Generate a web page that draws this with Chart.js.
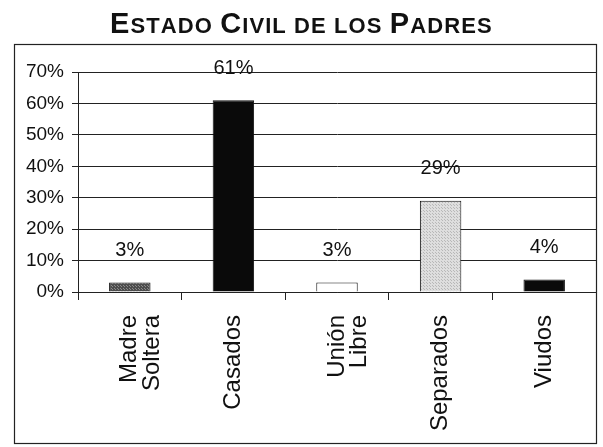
<!DOCTYPE html>
<html>
<head>
<meta charset="utf-8">
<script src="https://cdn.jsdelivr.net/npm/chart.js@4/dist/chart.umd.min.js"></script>
<style>
html,body{margin:0;padding:0;background:#fff;}
canvas{display:block;}
</style>
</head>
<body>
<canvas id="c" width="603" height="447"></canvas>
<script>
const titleText = "Estado Civil de los Padres";
const categories = [["Madre","Soltera"], "Casados", ["Unión","Libre"], "Separados", "Viudos"];
const values = [3, 61, 3, 29, 4];
const valueLabels = ["3%", "61%", "3%", "29%", "4%"];
const yTicks = [0, 10, 20, 30, 40, 50, 60, 70];

const FONT = "'Liberation Sans', Arial, sans-serif";

function makePattern(bg, fg, step) {
  const p = document.createElement('canvas');
  p.width = step; p.height = step;
  const g = p.getContext('2d');
  g.fillStyle = bg; g.fillRect(0, 0, step, step);
  g.fillStyle = fg; g.fillRect(0, 0, 1, 1);
  g.fillRect(Math.floor(step/2), Math.floor(step/2), 1, 1);
  return g.createPattern(p, 'repeat');
}
const ctx0 = document.getElementById('c').getContext('2d');
const barColors = [
  makePattern('#4d4d4d', '#8a8a8a', 3),
  '#0a0a0a',
  '#ffffff',
  makePattern('#dedede', '#b8b8b8', 3),
  '#0a0a0a'
];

// Small-caps title drawn as real text
const smallCapsTitle = {
  id: 'smallCapsTitle',
  afterDraw(chart) {
    const c = chart.ctx;
    const big = 'bold 29px ' + FONT, small = 'bold 22px ' + FONT;
    const parts = [];
    titleText.split(' ').forEach((w, wi) => {
      if (wi > 0) parts.push({ t: ' ', f: small });
      const first = w[0];
      if (first === first.toUpperCase()) {
        parts.push({ t: first, f: big });
        parts.push({ t: w.slice(1).toUpperCase(), f: small });
      } else {
        parts.push({ t: w.toUpperCase(), f: small });
      }
    });
    c.save();
    let total = 0, n = 0;
    parts.forEach(p => { c.font = p.f; p.w = c.measureText(p.t).width; total += p.w; n += p.t.length; });
    const targetW = 380;
    const sp = (targetW - total) / (n - 1);
    let x = 300 - targetW / 2;
    c.fillStyle = '#111';
    c.textBaseline = 'alphabetic';
    c.textAlign = 'left';
    parts.forEach(p => {
      c.font = p.f;
      for (const ch of p.t) {
        c.fillText(ch, x, 33);
        x += c.measureText(ch).width + sp;
      }
    });
    c.restore();
  }
};

const frame = {
  id: 'frame',
  beforeDraw(chart) {
    const c = chart.ctx;
    c.save();
    c.fillStyle = '#fff';
    c.fillRect(0, 0, chart.width, chart.height);
    c.strokeStyle = '#222';
    c.lineWidth = 1.2;
    c.strokeRect(14.5, 44.5, 582, 399);
    c.restore();
  }
};

const valueLabelPlugin = {
  id: 'valueLabels',
  afterDatasetsDraw(chart) {
    const c = chart.ctx;
    const meta = chart.getDatasetMeta(0);
    c.save();
    c.font = '20px ' + FONT;
    c.fillStyle = '#111';
    c.textAlign = 'center';
    c.textBaseline = 'middle';
    meta.data.forEach((bar, i) => {
      c.fillText(valueLabels[i], bar.x, bar.y - 32);
    });
    c.restore();
  }
};

new Chart(ctx0, {
  type: 'bar',
  data: {
    labels: categories,
    datasets: [{
      data: values,
      backgroundColor: barColors,
      borderColor: '#111',
      borderWidth: 1,
      barPercentage: 0.4,
      categoryPercentage: 1
    }]
  },
  options: {
    responsive: false,
    animation: false,
    devicePixelRatio: 1,
    layout: { padding: { left: 14, right: 7, top: 72, bottom: 12 } },
    plugins: {
      legend: { display: false },
      tooltip: { enabled: false },
      title: { display: false }
    },
    scales: {
      x: {
        offset: true,
        grid: { offset: true, drawOnChartArea: false, drawTicks: true, tickLength: 8, color: '#222', lineWidth: 1 },
        border: { display: true, color: '#222', width: 1 },
        ticks: {
          color: '#111',
          font: { family: FONT, size: 24, lineHeight: 0.95 },
          minRotation: 90,
          maxRotation: 90,
          padding: 15,
          autoSkip: false
        },
        afterFit(scale) { scale.height = 143; }
      },
      y: {
        min: 0,
        max: 70,
        afterBuildTicks(scale) { scale.ticks = yTicks.map(v => ({ value: v })); },
        grid: { color: '#222', lineWidth: 1, tickLength: 6 },
        border: { display: true, color: '#222', width: 1 },
        ticks: {
          color: '#111',
          font: { family: FONT, size: 19 },
          padding: 8,
          callback: v => v + '%'
        },
        afterFit(scale) { scale.width = 64; }
      }
    }
  },
  plugins: [frame, valueLabelPlugin, smallCapsTitle]
});
</script>
</body>
</html>
